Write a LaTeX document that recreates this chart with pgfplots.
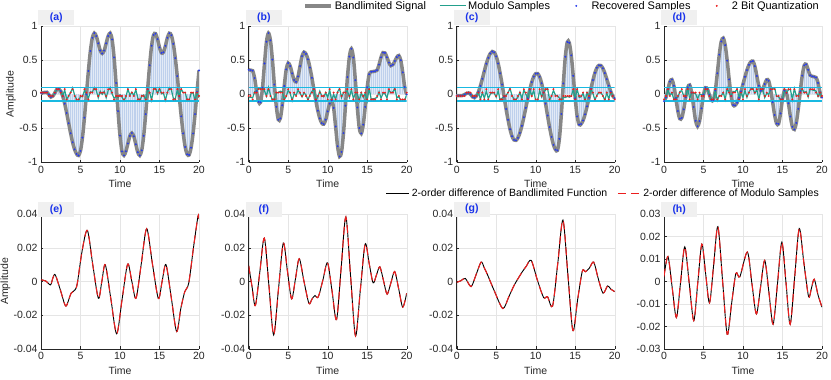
\documentclass[border=0pt]{standalone}
\usepackage{fontspec}
\setmainfont{Liberation Sans}
\usepackage{pgfplots}
\usepackage{pgfplotstable}
\pgfplotsset{compat=1.18}

\definecolor{axc}{RGB}{38,38,38}
\definecolor{sigc}{RGB}{135,135,135}
\definecolor{modc}{RGB}{35,160,140}
\definecolor{cyc}{RGB}{25,185,225}
\definecolor{stc}{RGB}{190,208,236}
\definecolor{stf}{RGB}{226,234,246}
\definecolor{recc}{RGB}{40,60,235}
\definecolor{qc}{RGB}{235,30,30}
\definecolor{labbg}{RGB}{240,240,240}
\definecolor{labc}{RGB}{25,50,235}

% top row: t, signal y, modulo sample m, 2-bit quantization q
\pgfplotstableread{
t y m q
0 0.02 0.02 0.025
0.25 0.023 0.023 0.025
0.5 0.028 0.028 0.025
0.75 0.03 0.03 0.025
1 -0.005 -0.005 -0.025
1.25 -0.04 -0.04 -0.025
1.5 -0.026 -0.026 -0.025
1.75 0.02 0.02 0.025
2 0.071 0.071 0.075
2.25 0.079 0.079 0.075
2.5 0.047 0.047 0.025
2.75 -0.028 -0.028 -0.025
3 -0.138 0.062 0.075
3.25 -0.275 -0.075 -0.075
3.5 -0.425 -0.025 -0.025
3.75 -0.573 0.027 0.025
4 -0.706 0.094 0.075
4.25 -0.81 -0.01 -0.025
4.5 -0.877 -0.077 -0.075
4.75 -0.9 -0.1 -0.075
5 -0.831 -0.031 -0.025
5.25 -0.636 -0.036 -0.025
5.5 -0.344 0.056 0.075
5.75 0 0 0.025
6 0.344 -0.056 -0.075
6.25 0.636 0.036 0.025
6.5 0.831 0.031 0.025
6.75 0.9 0.1 0.075
7 0.856 0.056 0.075
7.25 0.75 -0.05 -0.025
7.5 0.644 0.044 0.025
7.75 0.6 0 0.025
8 0.644 0.044 0.025
8.25 0.75 -0.05 -0.025
8.5 0.856 0.056 0.075
8.75 0.9 0.1 0.075
9 0.806 0.006 0.025
9.25 0.543 -0.057 -0.075
9.5 0.166 -0.034 -0.025
9.75 -0.247 -0.047 -0.025
10 -0.607 -0.007 -0.025
10.25 -0.839 -0.039 -0.025
10.5 -0.898 -0.098 -0.075
10.75 -0.838 -0.038 -0.025
11 -0.723 0.077 0.075
11.25 -0.614 -0.014 -0.025
11.5 -0.57 0.03 0.025
11.75 -0.618 -0.018 -0.025
12 -0.735 0.065 0.075
12.25 -0.852 -0.052 -0.075
12.5 -0.9 -0.1 -0.075
12.75 -0.824 -0.024 -0.025
13 -0.61 -0.01 -0.025
13.25 -0.292 -0.092 -0.075
13.5 0.074 0.074 0.075
13.75 0.427 0.027 0.025
14 0.715 -0.085 -0.075
14.25 0.873 0.073 0.075
14.5 0.892 0.092 0.075
14.75 0.81 0.01 0.025
15 0.69 0.09 0.075
15.25 0.608 0.008 0.025
15.5 0.618 0.018 0.025
15.75 0.713 -0.087 -0.075
16 0.831 0.031 0.025
16.25 0.898 0.098 0.075
16.5 0.868 0.068 0.075
16.75 0.742 -0.058 -0.075
17 0.531 -0.069 -0.075
17.25 0.268 0.068 0.075
17.5 -0.031 -0.031 -0.025
17.75 -0.324 0.076 0.075
18 -0.576 0.024 0.025
18.25 -0.774 0.026 0.025
18.5 -0.882 -0.082 -0.075
18.75 -0.891 -0.091 -0.075
19 -0.785 0.015 0.025
19.25 -0.576 0.024 0.025
19.5 -0.292 -0.092 -0.075
19.75 0.034 0.034 0.025
20 0.35 -0.05 -0.025
}\dataA

\pgfplotstableread{
t y m q
0 0.36 -0.04 -0.025
0.25 0.355 -0.045 -0.025
0.5 0.347 -0.053 -0.075
0.75 0.239 0.039 0.025
1 0.045 0.045 0.025
1.25 -0.11 0.09 0.075
1.5 -0.119 0.081 0.075
1.75 0.099 0.099 0.075
2 0.453 0.053 0.075
2.25 0.773 -0.027 -0.025
2.5 0.9 0.1 0.075
2.75 0.794 -0.006 -0.025
3 0.51 -0.09 -0.075
3.25 0.143 -0.057 -0.075
3.5 -0.184 0.016 0.025
3.75 -0.373 0.027 0.025
4 -0.355 0.045 0.025
4.25 -0.161 0.039 0.025
4.5 0.122 -0.078 -0.075
4.75 0.367 -0.033 -0.025
5 0.46 0.06 0.075
5.25 0.415 0.015 0.025
5.5 0.308 -0.092 -0.075
5.75 0.209 0.009 0.025
6 0.183 -0.017 -0.025
6.25 0.263 0.063 0.075
6.5 0.416 0.016 0.025
6.75 0.561 -0.039 -0.025
7 0.62 0.02 0.025
7.25 0.593 -0.007 -0.025
7.5 0.515 -0.085 -0.075
7.75 0.393 -0.007 -0.025
8 0.242 0.042 0.025
8.25 0.073 0.073 0.075
8.5 -0.094 -0.094 -0.075
8.75 -0.241 -0.041 -0.025
9 -0.354 0.046 0.025
9.25 -0.423 -0.023 -0.025
9.5 -0.438 -0.038 -0.025
9.75 -0.374 0.026 0.025
10 -0.252 -0.052 -0.075
10.25 -0.137 0.063 0.075
10.5 -0.09 -0.09 -0.075
10.75 -0.2 0 0.025
11 -0.474 -0.074 -0.075
11.25 -0.764 0.036 0.025
11.5 -0.915 0.085 0.075
11.75 -0.847 -0.047 -0.025
12 -0.572 0.028 0.025
12.25 -0.168 0.032 0.025
12.5 0.252 0.052 0.075
12.75 0.555 -0.045 -0.025
13 0.67 0.07 0.075
13.25 0.541 -0.059 -0.075
13.5 0.208 0.008 0.025
13.75 -0.194 0.006 0.025
14 -0.496 -0.096 -0.075
14.25 -0.576 0.024 0.025
14.5 -0.447 -0.047 -0.025
14.75 -0.185 0.015 0.025
15 0.103 -0.097 -0.075
15.25 0.295 0.095 0.075
15.5 0.33 -0.07 -0.075
15.75 0.335 -0.065 -0.075
16 0.34 -0.06 -0.075
16.25 0.355 -0.045 -0.025
16.5 0.437 0.037 0.025
16.75 0.544 -0.056 -0.075
17 0.613 0.013 0.025
17.25 0.608 0.008 0.025
17.5 0.545 -0.055 -0.075
17.75 0.466 0.066 0.075
18 0.421 0.021 0.025
18.25 0.436 0.036 0.025
18.5 0.489 0.089 0.075
18.75 0.546 -0.054 -0.075
19 0.57 -0.03 -0.025
19.25 0.501 -0.099 -0.075
19.5 0.322 -0.078 -0.075
19.75 0.107 -0.093 -0.075
20 0 0 0.025
}\dataB

\pgfplotstableread{
t y m q
0 -0.02 -0.02 -0.025
0.25 -0.02 -0.02 -0.025
0.5 -0.02 -0.02 -0.025
0.75 -0.017 -0.017 -0.025
1 -0.003 -0.003 -0.025
1.25 0.013 0.013 0.025
1.5 0.02 0.02 0.025
1.75 0 0 0.025
2 -0.037 -0.037 -0.025
2.25 -0.05 -0.05 -0.025
2.5 -0.024 -0.024 -0.025
2.75 0.036 0.036 0.025
3 0.124 -0.076 -0.075
3.25 0.229 0.029 0.025
3.5 0.342 -0.058 -0.075
3.75 0.45 0.05 0.075
4 0.537 -0.063 -0.075
4.25 0.6 0 0.025
4.5 0.629 0.029 0.025
4.75 0.617 0.017 0.025
5 0.558 -0.042 -0.025
5.25 0.453 0.053 0.075
5.5 0.309 -0.091 -0.075
5.75 0.145 -0.055 -0.075
6 -0.035 -0.035 -0.025
6.25 -0.216 -0.016 -0.025
6.5 -0.375 0.025 0.025
6.75 -0.514 0.086 0.075
7 -0.617 -0.017 -0.025
7.25 -0.671 -0.071 -0.075
7.5 -0.677 -0.077 -0.075
7.75 -0.641 -0.041 -0.025
8 -0.569 0.031 0.025
8.25 -0.464 -0.064 -0.075
8.5 -0.338 0.062 0.075
8.75 -0.199 0.001 0.025
9 -0.059 -0.059 -0.075
9.25 0.069 0.069 0.075
9.5 0.179 -0.021 -0.025
9.75 0.26 0.06 0.075
10 0.303 -0.097 -0.075
10.25 0.305 -0.095 -0.075
10.5 0.258 0.058 0.075
10.75 0.162 -0.038 -0.025
11 0.025 0.025 0.025
11.25 -0.137 0.063 0.075
11.5 -0.312 0.088 0.075
11.75 -0.481 -0.081 -0.075
12 -0.627 -0.027 -0.025
12.25 -0.744 0.056 0.075
12.5 -0.813 -0.013 -0.025
12.75 -0.825 -0.025 -0.025
13 -0.655 -0.055 -0.075
13.25 -0.289 -0.089 -0.075
13.5 0.16 -0.04 -0.025
13.75 0.553 -0.047 -0.025
14 0.77 -0.03 -0.025
14.25 0.758 -0.042 -0.025
14.5 0.572 -0.028 -0.025
14.75 0.272 0.072 0.075
15 -0.059 -0.059 -0.075
15.25 -0.326 0.074 0.075
15.5 -0.446 -0.046 -0.025
15.75 -0.437 -0.037 -0.025
16 -0.384 0.016 0.025
16.25 -0.295 -0.095 -0.075
16.5 -0.177 0.023 0.025
16.75 -0.05 -0.05 -0.025
17 0.084 0.084 0.075
17.25 0.21 0.01 0.025
17.5 0.316 -0.084 -0.075
17.75 0.39 -0.01 -0.025
18 0.426 0.026 0.025
18.25 0.423 0.023 0.025
18.5 0.383 -0.017 -0.025
18.75 0.312 -0.088 -0.075
19 0.223 0.023 0.025
19.25 0.128 -0.072 -0.075
19.5 0.041 0.041 0.025
19.75 -0.024 -0.024 -0.025
20 -0.057 -0.057 -0.075
}\dataC

\pgfplotstableread{
t y m q
0 -0.1 -0.1 -0.075
0.25 -0.048 -0.048 -0.025
0.5 0.073 0.073 0.075
0.75 0.187 -0.013 -0.025
1 0.217 0.017 0.025
1.25 0.126 -0.074 -0.075
1.5 -0.055 -0.055 -0.075
1.75 -0.246 -0.046 -0.025
2 -0.359 0.041 0.025
2.25 -0.347 0.053 0.075
2.5 -0.221 -0.021 -0.025
2.75 -0.044 -0.044 -0.025
3 0.099 0.099 0.075
3.25 0.136 -0.064 -0.075
3.5 0.025 0.025 0.025
3.75 -0.188 0.012 0.025
4 -0.389 0.011 0.025
4.25 -0.47 -0.07 -0.075
4.5 -0.394 0.006 0.025
4.75 -0.206 -0.006 -0.025
5 -0.007 -0.007 -0.025
5.25 0.097 0.097 0.075
5.5 0.074 0.074 0.075
5.75 -0.009 -0.009 -0.025
6 -0.085 -0.085 -0.075
6.25 -0.086 -0.086 -0.075
6.5 0.057 0.057 0.075
6.75 0.309 -0.091 -0.075
7 0.584 -0.016 -0.025
7.25 0.777 -0.023 -0.025
7.5 0.827 0.027 0.025
7.75 0.722 -0.078 -0.075
8 0.496 0.096 0.075
8.25 0.219 0.019 0.025
8.5 -0.024 -0.024 -0.025
8.75 -0.158 0.042 0.025
9 -0.163 0.037 0.025
9.25 -0.124 0.076 0.075
9.5 -0.053 -0.053 -0.075
9.75 0.043 0.043 0.025
10 0.149 -0.051 -0.075
10.25 0.258 0.058 0.075
10.5 0.355 -0.045 -0.025
10.75 0.433 0.033 0.025
11 0.478 0.078 0.075
11.25 0.488 0.088 0.075
11.5 0.414 0.014 0.025
11.75 0.27 0.07 0.075
12 0.126 -0.074 -0.075
12.25 0.052 0.052 0.075
12.5 0.075 0.075 0.075
12.75 0.151 -0.049 -0.025
13 0.214 0.014 0.025
13.25 0.199 -0.001 -0.025
13.5 0.069 0.069 0.075
13.75 -0.115 0.085 0.075
14 -0.303 0.097 0.075
14.25 -0.429 -0.029 -0.025
14.5 -0.435 -0.035 -0.025
14.75 -0.282 -0.082 -0.075
15 -0.068 -0.068 -0.075
15.25 0.056 0.056 0.075
15.5 0.018 0.018 0.025
15.75 -0.133 0.067 0.075
16 -0.327 0.073 0.075
16.25 -0.478 -0.078 -0.075
16.5 -0.517 0.083 0.075
16.75 -0.421 -0.021 -0.025
17 -0.213 -0.013 -0.025
17.25 0.044 0.044 0.025
17.5 0.275 0.075 0.075
17.75 0.425 0.025 0.025
18 0.441 0.041 0.025
18.25 0.36 -0.04 -0.025
18.5 0.279 0.079 0.075
18.75 0.265 0.065 0.075
19 0.258 0.058 0.075
19.25 0.247 0.047 0.025
19.5 0.167 -0.033 -0.025
19.75 0.029 0.029 0.025
20 -0.05 -0.05 -0.025
}\dataD

% bottom row: second-order differences
\pgfplotstableread{
t d
0 0.001
0.6 0.0003
1.2 -0.002
1.5 0.002
1.8 0.004
2.45 -0.005
3.1 -0.0145
3.5 -0.011
3.8 -0.007
4.3 -0.005
4.6 -0.001
5.2 0.018
5.87 0.0303
6.55 0.010
7.26 -0.0099
7.7 0
8.14 0.0099
8.85 -0.0105
9.58 -0.031
10.27 -0.0104
10.97 0.0103
11.5 0
12.03 -0.0099
12.7 0.0107
13.38 0.0313
14.1 0.0106
14.85 -0.010
15.33 0
15.82 0.010
16.5 -0.0099
17.17 -0.0297
17.7 -0.016
18.2 -0.006
18.7 -0.001
19.3 0.02
19.87 0.0386
20 0.037
}\diffE

\pgfplotstableread{
t d
0 0.0093
0.42 -0.003
0.84 -0.0143
1.41 0.0057
1.98 0.0257
2.57 -0.003
3.16 -0.0317
3.77 -0.0045
4.38 0.0228
4.9 0.0063
5.43 -0.0103
5.92 0.0016
6.4 0.0135
7.0 0.0
7.62 -0.0129
8.0 -0.0105
8.38 -0.0083
8.8 -0.0092
9.4 0.001
9.98 0.0111
10.55 -0.0057
11.12 -0.0226
11.7 0.0078
12.3 0.0382
12.9 0.003
13.52 -0.0323
14.13 -0.005
14.74 0.0222
15.25 0.0107
15.75 -0.0008
16.18 0.004
16.6 0.0087
17.06 0.0006
17.52 -0.0075
18.0 -0.0008
18.48 0.0059
19.0 -0.0047
19.5 -0.0152
20 -0.0069
}\diffF

\pgfplotstableread{
t d
0 -0.0005
0.55 0.0005
1.1 0.0018
1.82 -0.003
2.45 0.004
3.09 0.0115
3.5 0.008
3.9 0.004
4.8 -0.006
5.84 -0.016
6.6 -0.009
7.3 -0.002
8.2 0.005
8.8 0.009
9.43 0.0125
10.2 0.001
11.0 -0.0095
11.5 -0.009
12.14 -0.0145
12.8 0.011
13.45 0.0364
14.08 0.0037
14.71 -0.0291
15.3 -0.011
15.9 0.0061
16.3 0.0058
16.8 0.008
17.34 0.0115
17.9 0.002
18.52 -0.0069
19.1 -0.0026
19.5 -0.0045
20 -0.006
}\diffG

\pgfplotstableread{
t d
0 0.0022
0.5 0.0111
1.03 -0.0025
1.57 -0.016
2.1 -0.0003
2.63 0.0154
3.2 -0.001
3.77 -0.0174
4.28 -0.0004
4.79 0.0166
5.27 0.0035
5.76 -0.0095
6.29 0.0075
6.82 0.0244
7.41 0.0005
8.0 -0.0235
8.55 -0.01
9.1 0.0036
9.6 0.0021
10.55 0.0131
11.12 -0.0007
11.69 -0.0144
12.22 -0.0025
12.75 0.0094
13.28 -0.0048
13.81 -0.019
14.37 -0.0008
14.92 0.0175
15.45 -0.0008
15.97 -0.019
16.55 0.0023
17.12 0.0236
17.7 0.0085
18.3 -0.0067
18.66 -0.003
19.02 0.001
19.5 -0.006
20 -0.0114
}\diffH

\pgfplotsset{
  base/.style={
    scale only axis, width=158pt,
    xmin=0, xmax=20, xtick={0,5,10,15,20},
    axis x line*=bottom, axis y line*=left,
    axis line style={draw=axc, line width=0.5pt},
    grid=major, grid style={draw=gray!20, line width=0.4pt},
    tick align=inside, major tick length=2.5pt, tick style={draw=axc},
    ticklabel style={font=\fontsize{10.5}{12}\selectfont, text=axc},
    label style={font=\fontsize{10.5}{12}\selectfont, text=axc},
    /pgf/number format/assume math mode=true,
    xlabel={Time},
  },
  top/.style={base, height=136pt, ymin=-1, ymax=1, ytick={-1,-0.5,0,0.5,1}},
  bot/.style={base, height=135pt, scaled y ticks=false,
    yticklabel style={/pgf/number format/fixed, /pgf/number format/precision=2}},
  limg/.style={legend image code/.code={%
    \path (0pt,0pt) (26pt,0pt);
    \draw[mark repeat=2,mark phase=2,##1] plot coordinates {(0pt,0pt) (13pt,0pt) (26pt,0pt)};}},
  limgb/.style={legend image code/.code={\draw[##1] (0pt,0pt) -- (23pt,0pt);}},
}

\newcommand\topplots[1]{%
  \addplot[draw=none, fill=stf, forget plot] table[x=t,y=y]{#1} \closedcycle;
  \addplot[ycomb, stc, line width=0.6pt, forget plot] table[x=t,y=y]{#1};
  \addplot[sigc, line width=3.5pt, smooth, limg] table[x=t,y=y]{#1};
  \addplot[modc, line width=1.2pt, limg] table[x=t,y=m]{#1};
  \addplot[recc, only marks, mark=*, mark size=0.75pt, limg] table[x=t,y=y]{#1};
  \addplot[qc, only marks, mark=*, mark size=0.75pt, limg] table[x=t,y=q]{#1};
  \addplot[cyc, line width=1.7pt, forget plot] coordinates {(0,0.1) (20,0.1)};
  \addplot[cyc, line width=1.7pt, forget plot] coordinates {(0,-0.1) (20,-0.1)};
}
\newcommand\botplots[1]{%
  \addplot[black, line width=0.9pt, smooth, limgb] table[x=t,y=d]{#1};
  \addplot[qc, line width=1.1pt, smooth, dash pattern=on 8pt off 5pt, limgb] table[x=t,y=d]{#1};
}
\tikzset{panellab/.style={fill=labbg, text=labc, font=\bfseries\fontsize{10.5}{12}\selectfont,
  anchor=south west, minimum width=36pt, minimum height=15pt, inner sep=0pt}}

\begin{document}
\begin{tikzpicture}
\useasboundingbox (0,0) rectangle (831pt,380pt);

\begin{axis}[top, name=pa, at={(41pt,217.7pt)}, ylabel={Amplitude},
  ylabel style={at={(axis description cs:-0.19,0.5)}, anchor=center}]
\topplots{\dataA}
\end{axis}
\begin{axis}[top, name=pb, at={(248.7pt,217.7pt)}]
\topplots{\dataB}
\end{axis}
\begin{axis}[top, name=pc, at={(456.7pt,217.7pt)}]
\topplots{\dataC}
\end{axis}
\begin{axis}[top, name=pd, at={(664pt,217.7pt)}, legend columns=4,
  legend style={at={(1,1.15)}, anchor=east, xshift=2pt, draw=none, fill=none,
    font=\fontsize{11}{13}\selectfont,
    /tikz/every even column/.append style={column sep=11pt}}]
\topplots{\dataD}
\legend{Bandlimited Signal, Modulo Samples, Recovered Samples, 2 Bit Quantization}
\end{axis}

\begin{axis}[bot, name=pe, at={(41pt,31pt)}, ymin=-0.04, ymax=0.04,
  ytick={-0.04,-0.02,0,0.02,0.04}, ylabel={Amplitude},
  ylabel style={at={(axis description cs:-0.225,0.5)}, anchor=center}]
\botplots{\diffE}
\end{axis}
\begin{axis}[bot, name=pf, at={(248.7pt,31pt)}, ymin=-0.04, ymax=0.04,
  ytick={-0.04,-0.02,0,0.02,0.04}]
\botplots{\diffF}
\end{axis}
\begin{axis}[bot, name=pg, at={(456.7pt,31pt)}, ymin=-0.04, ymax=0.04,
  ytick={-0.04,-0.02,0,0.02,0.04}]
\botplots{\diffG}
\end{axis}
\begin{axis}[bot, name=ph, at={(664pt,31pt)}, ymin=-0.03, ymax=0.03,
  ytick={-0.03,-0.02,-0.01,0,0.01,0.02,0.03}, legend columns=2,
  legend style={at={(1,1.15)}, anchor=east, xshift=2pt, draw=none, fill=none,
    font=\fontsize{10.5}{12}\selectfont,
    /tikz/every even column/.append style={column sep=8pt}}]
\botplots{\diffH}
\legend{2-order difference of Bandlimited Function, 2-order difference of Modulo Samples}
\end{axis}

\node[panellab] at ([xshift=-3pt,yshift=1pt]pa.north west) {(a)};
\node[panellab] at ([xshift=-3pt,yshift=1pt]pb.north west) {(b)};
\node[panellab] at ([xshift=-3pt,yshift=1pt]pc.north west) {(c)};
\node[panellab] at ([xshift=-3pt,yshift=1pt]pd.north west) {(d)};
\node[panellab] at ([xshift=-3pt,yshift=-3pt]pe.north west) {(e)};
\node[panellab] at ([xshift=-3pt,yshift=-3pt]pf.north west) {(f)};
\node[panellab] at ([xshift=-3pt,yshift=-3pt]pg.north west) {(g)};
\node[panellab] at ([xshift=-3pt,yshift=-3pt]ph.north west) {(h)};
\end{tikzpicture}
\end{document}
